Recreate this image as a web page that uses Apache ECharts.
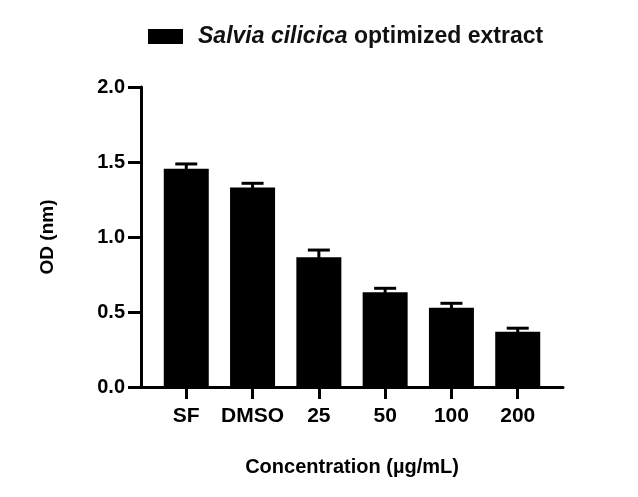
<!DOCTYPE html>
<html>
<head>
<meta charset="utf-8">
<script src="https://cdn.jsdelivr.net/npm/echarts@6/dist/echarts.min.js"></script>
<style>
  html, body { margin: 0; padding: 0; background: #fff; }
  #chart { width: 638px; height: 497px; }
</style>
</head>
<body>
<div id="chart"></div>
<script>
// data
var categories = ['SF', 'DMSO', '25', '50', '100', '200'];
var odMean = [1.455, 1.33, 0.865, 0.632, 0.528, 0.368];
var odErr = [0.032, 0.028, 0.048, 0.026, 0.030, 0.024];

var FONT = '"Liberation Sans", Arial, sans-serif';
var INK = '#000';

var positions = categories.map(function (c, i) { return i; });
var barData = odMean.map(function (v, i) { return [i, v]; });
var errData = odMean.map(function (v, i) { return [i, v - odErr[i], v + odErr[i]]; });

var myChart = echarts.init(document.getElementById('chart'));
myChart.setOption({
    animation: false,
    backgroundColor: '#fff',
    legend: {
        left: 143,
        top: 20,
        icon: 'rect',
        itemWidth: 35,
        itemHeight: 15,
        data: ['Salvia cilicica optimized extract'],
        formatter: function () {
            return '{i|Salvia cilicica} optimized extract';
        },
        textStyle: {
            color: '#111',
            fontFamily: FONT,
            fontWeight: 'bold',
            fontSize: 23,
            padding: [0, 0, 0, 10],
            rich: {
                i: { fontStyle: 'italic', fontWeight: 'bold', fontSize: 23, fontFamily: FONT, color: '#111' }
            }
        }
    },
    grid: { left: 141, right: 75, top: 87, bottom: 110, containLabel: false },
    xAxis: {
        type: 'value',
        min: -0.683,
        max: 5.683,
        name: 'Concentration (\u00b5g/mL)',
        nameLocation: 'middle',
        nameGap: 70,
        nameTextStyle: { color: INK, fontFamily: FONT, fontWeight: 'bold', fontSize: 20 },
        splitLine: { show: false },
        axisLine: { show: true, onZero: false, lineStyle: { color: INK, width: 3 } },
        axisTick: { show: true, inside: false, customValues: positions, length: 12, lineStyle: { color: INK, width: 3 } },
        axisLabel: {
            customValues: positions,
            margin: 19,
            color: INK,
            fontFamily: FONT,
            fontWeight: 'bold',
            fontSize: 21,
            formatter: function (v) { return categories[Math.round(v)]; }
        }
    },
    yAxis: {
        type: 'value',
        min: 0,
        max: 2,
        interval: 0.5,
        name: 'OD (nm)',
        nameLocation: 'middle',
        nameGap: 84,
        nameTextStyle: { color: INK, fontFamily: FONT, fontWeight: 'bold', fontSize: 19 },
        splitLine: { show: false },
        axisLine: { show: true, onZero: false, lineStyle: { color: INK, width: 3 } },
        axisTick: { show: true, length: 13, lineStyle: { color: INK, width: 3 } },
        axisLabel: {
            margin: 16,
            color: INK,
            fontFamily: FONT,
            fontWeight: 'bold',
            fontSize: 20,
            formatter: function (v) { return v.toFixed(1); }
        }
    },
    series: [
        {
            name: 'Salvia cilicica optimized extract',
            type: 'bar',
            data: barData,
            barWidth: 45,
            itemStyle: { color: '#000' }
        },
        {
            type: 'custom',
            data: errData,
            z: 5,
            renderItem: function (params, api) {
                var x = api.value(0);
                var lo = api.coord([x, api.value(1)]);
                var hi = api.coord([x, api.value(2)]);
                var half = 11;
                var style = { stroke: '#000', lineWidth: 3 };
                return {
                    type: 'group',
                    children: [
                        { type: 'line', shape: { x1: lo[0], y1: lo[1], x2: hi[0], y2: hi[1] }, style: style },
                        { type: 'line', shape: { x1: hi[0] - half, y1: hi[1], x2: hi[0] + half, y2: hi[1] }, style: style }
                    ]
                };
            }
        }
    ]
});
</script>
</body>
</html>
